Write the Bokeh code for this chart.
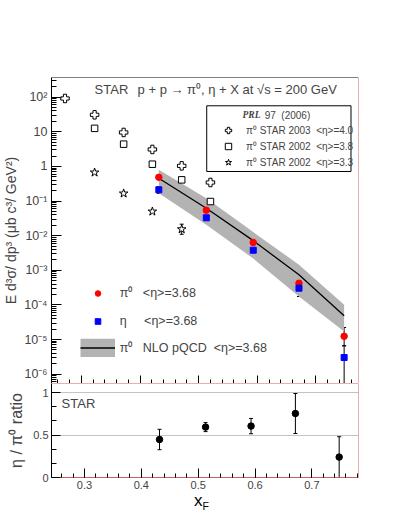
from bokeh.plotting import figure
from bokeh.layouts import column
from bokeh.models import (Range1d, LinearAxis, LogAxis, FixedTicker, Label, Legend, Div,
                          LegendItem, Whisker, TeeHead, ColumnDataSource, Grid, BoxAnnotation)
from bokeh.embed import file_html
from bokeh.resources import INLINE

FONT = "Liberation Sans"
FRAME_RED = "#d06060"

# ---------------- data ----------------
xf = [0.432, 0.513, 0.593, 0.671, 0.748]
pi0 = [0.486, 0.0545, 0.00637, 4.25e-4, 1.245e-5]
pi0_err_up = [0.05, 0.005, 0.0008, 1.25e-4, 0.985e-5]
pi0_err_dn = [0.05, 0.005, 0.0008, 1.1e-4, 0.585e-5]
eta = [0.212, 0.0329, 0.00381, 3.05e-4, 3.03e-6]
eta_err_up = [0.045, 0.004, 0.0008, 1.0e-4, 3.6e-6]
eta_err_dn = [0.045, 0.004, 0.0008, 1.3e-4, 3.02e-6]

nlo_x = xf
nlo_mid = [0.458, 0.0623, 0.0072, 7.4e-4, 4.87e-5]
nlo_hi = [0.80, 0.121, 0.0127, 1.45e-3, 1.01e-4]
nlo_lo = [0.169, 0.0207, 0.00219, 1.75e-4, 1.71e-5]

x_prl03_40 = [0.272, 0.3225, 0.372, 0.421, 0.471, 0.520]
y_prl03_40 = [92, 31, 9.6, 3.1, 1.04, 0.344]
x_prl02_38 = [0.3225, 0.372, 0.421, 0.471, 0.520]
y_prl02_38 = [12.6, 4.4, 1.16, 0.41, 0.097]
x_prl02_33 = [0.3225, 0.372, 0.421, 0.471]
y_prl02_33 = [0.67, 0.166, 0.050, 0.0154]
err_prl02_33_up = [0.0, 0.0, 0.0, 0.0061]
err_prl02_33_dn = [0.0, 0.0, 0.0, 0.0044]

ratio = [0.447, 0.593, 0.605, 0.753, 0.24]
ratio_err = [0.12, 0.053, 0.09, 0.235, 0.24]

y_decades = [1e2, 1e1, 1.0, 1e-1, 1e-2, 1e-3, 1e-4, 1e-5, 1e-6]
y_decade_labels = ["10\u00b2", "10", "1", "10\u207b\u00b9", "10\u207b\u00b2", "10\u207b\u00b3",
                   "10\u207b\u2074", "10\u207b\u2075", "10\u207b\u2076"]
x_ticks = [0.3, 0.4, 0.5, 0.6, 0.7]
x_tick_labels = ["0.3", "0.4", "0.5", "0.6", "0.7"]
r_ticks = [0.0, 0.5, 1.0]
r_tick_labels = ["0", "0.5", "1"]

# ---------------- ranges ----------------
X1 = (0.249, 0.7725)
Y1 = (10 ** -6.269, 10 ** 2.569)
X2 = (0.242, 0.782)
Y2 = (0.0, 1.106)

y_minor = [k * 10.0 ** n for n in range(-7, 3) for k in range(2, 10)]
x_minor = [0.24 + 0.02 * i for i in range(28)]
r_minor = [i / 6 for i in range(7)]

W = 383
TOP = 77


def empty_axis(cls, loc, color):
    return cls(ticker=FixedTicker(ticks=[]), fixed_location=loc, axis_line_color=color,
               major_tick_in=0, major_tick_out=0, minor_tick_in=0, minor_tick_out=0,
               major_label_text_font_size="1px", major_label_text_alpha=0)


# ---------------- main panel ----------------
p1 = figure(width=W, height=TOP + 306, x_range=Range1d(*X1), y_range=Range1d(*Y1),
            y_axis_type="log", x_axis_location=None, y_axis_location=None,
            output_backend="svg", toolbar_location=None,
            min_border_left=44, min_border_right=W - 44 - 314, min_border_top=TOP,
            min_border_bottom=0)
p1.outline_line_color = None
p1.grid.visible = False

yax1 = LogAxis(ticker=FixedTicker(ticks=y_decades, minor_ticks=y_minor),
               major_label_overrides=dict(zip(y_decades, y_decade_labels)),
               axis_label="E d\u00b3\u03c3/ dp\u00b3 (\u03bcb c\u00b3/ GeV\u00b2)",
               axis_label_text_font=FONT, axis_label_text_font_size="14px",
               axis_label_text_font_style="normal", axis_label_standoff=2,
               major_label_text_font=FONT, major_label_text_font_size="12.5px",
               major_label_standoff=4,
               major_tick_in=10, major_tick_out=0, minor_tick_in=5, minor_tick_out=0,
               axis_line_color="black")
p1.add_layout(yax1, "left")

xax1 = LinearAxis(ticker=FixedTicker(ticks=x_ticks, minor_ticks=x_minor),
                  fixed_location=Y1[0],
                  major_label_overrides={t: "" for t in x_ticks},
                  major_tick_in=8, major_tick_out=0, minor_tick_in=4, minor_tick_out=0,
                  axis_line_color=FRAME_RED)
p1.add_layout(xax1, "below")
p1.add_layout(empty_axis(LogAxis, X1[1], FRAME_RED), "right")
p1.add_layout(empty_axis(LinearAxis, Y1[1], "black"), "above")

# NLO band + line
r_band = p1.varea(x=nlo_x, y1=nlo_lo, y2=nlo_hi, fill_color="#b3b3b3")
r_nlo = p1.line(x=nlo_x, y=nlo_mid, line_color="black", line_width=1.3)
# legend key for the band (not drawn in the plot itself)
r_bandkey = p1.line(x=nlo_x, y=nlo_mid, line_color="#b3b3b3", line_width=18.7, visible=False)

# PRL 97 open markers
src_s33 = ColumnDataSource(dict(x=x_prl02_33, y=y_prl02_33,
                                lo=[v - e for v, e in zip(y_prl02_33, err_prl02_33_dn)],
                                hi=[v + e for v, e in zip(y_prl02_33, err_prl02_33_up)]))
p1.add_layout(Whisker(source=src_s33, base="x", lower="lo", upper="hi", line_color="black",
                      upper_head=TeeHead(size=4), lower_head=TeeHead(size=4)))
r03 = p1.scatter(x=x_prl03_40, y=y_prl03_40, marker="plus", size=8.5,
                 fill_color="white", line_color="black", line_width=1)
r02a = p1.scatter(x=x_prl02_38, y=y_prl02_38, marker="square", size=6.5,
                  fill_color="white", line_color="black", line_width=1)
r02b = p1.scatter(source=src_s33, x="x", y="y", marker="star", size=9,
                  fill_color="white", line_color="black", line_width=1)

# STAR pi0 / eta points
src_pi0 = ColumnDataSource(dict(x=xf, y=pi0,
                                lo=[v - e for v, e in zip(pi0, pi0_err_dn)],
                                hi=[v + e for v, e in zip(pi0, pi0_err_up)]))
src_eta = ColumnDataSource(dict(x=xf, y=eta,
                                lo=[v - e for v, e in zip(eta, eta_err_dn)],
                                hi=[v + e for v, e in zip(eta, eta_err_up)]))
for s in (src_pi0, src_eta):
    p1.add_layout(Whisker(source=s, base="x", lower="lo", upper="hi", line_color="black",
                          upper_head=TeeHead(size=4), lower_head=TeeHead(size=4)))
r_pi0 = p1.scatter(source=src_pi0, x="x", y="y", marker="circle", size=6.5,
                   fill_color="#ff0000", line_color="#ff0000")
r_eta = p1.scatter(source=src_eta, x="x", y="y", marker="square", size=6,
                   fill_color="#0000ff", line_color="#0000ff")

r_blank = p1.line(x=[], y=[], line_alpha=0)

NB = "\u00a0"
# PRL 97 legend frame
p1.add_layout(BoxAnnotation(left=0.5137, right=0.7597, top=56.5, bottom=0.7147,
                            fill_color=None, fill_alpha=0, line_color="black", line_width=1,
                            line_alpha=1))
leg_prl = Legend(items=[LegendItem(label=NB, renderers=[r_blank]),
                        LegendItem(label="\u03c0\u2070 STAR 2003" + NB * 2 + "<\u03b7>=4.0", renderers=[r03]),
                        LegendItem(label="\u03c0\u2070 STAR 2002" + NB * 2 + "<\u03b7>=3.8", renderers=[r02a]),
                        LegendItem(label="\u03c0\u2070 STAR 2002" + NB * 2 + "<\u03b7>=3.3", renderers=[r02b])],
                 location=(161, 213.5), padding=0, spacing=0, margin=0,
                 glyph_width=32, glyph_height=16, label_height=16,
                 label_standoff=2, border_line_alpha=0, background_fill_alpha=0,
                 label_text_font=FONT, label_text_font_size="10px")
p1.add_layout(leg_prl)

leg_pts = Legend(items=[LegendItem(label="\u03c0\u2070" + NB * 3 + "<\u03b7>=3.68", renderers=[r_pi0]),
                        LegendItem(label="\u03b7" + NB * 5 + "<\u03b7>=3.68", renderers=[r_eta])],
                 location=(28.8, 55), padding=0, spacing=13, margin=0,
                 glyph_width=35, glyph_height=14, label_height=14, label_standoff=5,
                 border_line_alpha=0, background_fill_alpha=0,
                 label_text_font=FONT, label_text_font_size="12.5px")
p1.add_layout(leg_pts)

leg_nlo = Legend(items=[LegendItem(label="\u03c0\u2070" + NB * 3 + "NLO pQCD" + NB * 2 + "<\u03b7>=3.68",
                                   renderers=[r_bandkey, r_nlo])],
                 location=(28.8, 25.8), padding=0, spacing=0, margin=0,
                 glyph_width=35, glyph_height=19, label_height=19, label_standoff=5,
                 border_line_alpha=0, background_fill_alpha=0,
                 label_text_font=FONT, label_text_font_size="12.5px")
p1.add_layout(leg_nlo)

# texts
p1.add_layout(Label(x=0.3225, y=166.9, text="STAR", text_font=FONT, text_font_size="13px",
                    text_baseline="middle", level="overlay"))
p1.add_layout(Label(x=0.3958, y=166.9,
                    text="p + p \u2192 \u03c0\u2070, \u03b7 + X at \u221as = 200 GeV",
                    text_font=FONT, text_font_size="13px", text_baseline="middle", level="overlay"))
p1.add_layout(Label(x=0.5747, y=30.0, text="PRL", text_font="Liberation Serif",
                    text_font_style="bold italic", text_font_size="9.5px", text_baseline="middle",
                    level="overlay"))
p1.add_layout(Label(x=0.6125, y=30.0, text="97" + NB * 2 + "(2006)", text_font=FONT,
                    text_font_size="10px", text_baseline="middle", level="overlay"))

# ---------------- ratio panel ----------------
P2_BOTTOM = 16
p2 = figure(width=W, height=94 + P2_BOTTOM, x_range=Range1d(*X2), y_range=Range1d(*Y2),
            x_axis_location=None, y_axis_location=None,
            output_backend="svg", toolbar_location=None,
            min_border_left=44, min_border_right=W - 44 - 314, min_border_top=0,
            min_border_bottom=P2_BOTTOM)
p2.outline_line_color = None
p2.grid.visible = False

yax2 = LinearAxis(ticker=FixedTicker(ticks=r_ticks, minor_ticks=r_minor),
                  major_label_overrides=dict(zip(r_ticks, r_tick_labels)),
                  axis_label="\u03b7 / \u03c0\u2070 ratio",
                  axis_label_text_font=FONT, axis_label_text_font_size="16px",
                  axis_label_text_font_style="normal", axis_label_standoff=5,
                  major_label_text_font=FONT, major_label_text_font_size="11px",
                  major_label_standoff=3,
                  major_tick_in=9, major_tick_out=0, minor_tick_in=5, minor_tick_out=0,
                  axis_line_color="black")
p2.add_layout(yax2, "left")
xax2 = LinearAxis(ticker=FixedTicker(ticks=x_ticks, minor_ticks=x_minor),
                  major_label_overrides=dict(zip(x_ticks, x_tick_labels)),
                  major_label_text_font=FONT, major_label_text_font_size="11px",
                  major_label_standoff=3,
                  major_tick_in=9, major_tick_out=0, minor_tick_in=4, minor_tick_out=0,
                  axis_line_color=FRAME_RED)
p2.add_layout(xax2, "below")
p2.add_layout(empty_axis(LinearAxis, X2[1], FRAME_RED), "right")
p2.add_layout(empty_axis(LinearAxis, Y2[1], FRAME_RED), "above")
p2.add_layout(Grid(dimension=1, ticker=FixedTicker(ticks=[0.5, 1.0]),
                   grid_line_color="#888888", grid_line_dash="1 1"))

src_r = ColumnDataSource(dict(x=xf, y=ratio,
                              lo=[max(0.0, v - e) for v, e in zip(ratio, ratio_err)],
                              hi=[v + e for v, e in zip(ratio, ratio_err)]))
p2.add_layout(Whisker(source=src_r, base="x", lower="lo", upper="hi", line_color="black",
                      upper_head=TeeHead(size=4), lower_head=TeeHead(size=4)))
p2.scatter(source=src_r, x="x", y="y", marker="circle", size=6.5,
           fill_color="black", line_color="black")

p2.add_layout(Label(x=0.2597, y=0.867, text="STAR", text_font=FONT, text_font_size="13px",
                    text_baseline="middle"))

# x-axis title  x_F  (below the ratio panel)
xtitle = Div(text=("<div style=\"position:relative; left:194px; font-family:'Liberation Sans'; "
                   "font-size:17px; line-height:15px; white-space:nowrap; color:black;\">x"
                   "<sub style=\"font-size:10.5px; vertical-align:-4px; line-height:0;\">F</sub></div>"),
             width=W, height=16, margin=0, styles={"overflow": "visible"})

layout = column(p1, p2, xtitle, spacing=0)
open("out.html", "w").write(file_html(layout, INLINE))
